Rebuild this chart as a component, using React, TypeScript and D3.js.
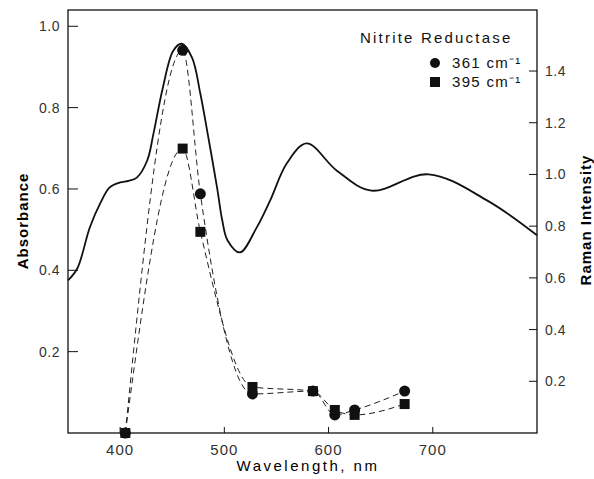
import React, { useRef, useEffect } from 'react'
import * as d3 from 'd3'

// absorption spectrum (solid line)
const absWavelength = [350, 359, 371, 381, 390, 400, 408, 416, 426, 432, 441, 451, 459, 469, 477, 484, 493, 498, 503, 515, 531, 544, 560, 579, 608, 641, 696, 752, 800]
const absorbance = [0.375, 0.405, 0.506, 0.565, 0.604, 0.616, 0.62, 0.628, 0.67, 0.736, 0.849, 0.94, 0.957, 0.923, 0.834, 0.736, 0.604, 0.523, 0.474, 0.444, 0.505, 0.572, 0.663, 0.712, 0.645, 0.596, 0.636, 0.572, 0.486]

// resonance Raman excitation profiles
const ramanWavelength = [405, 460, 477, 527, 585, 606, 625, 673]
const raman361 = [0, 1.48, 0.925, 0.151, 0.162, 0.07, 0.089, 0.162]
const raman395 = [0, 1.1, 0.778, 0.178, 0.162, 0.089, 0.07, 0.112]

const xTicks = [400, 500, 600, 700]
const absTicks = [0.2, 0.4, 0.6, 0.8, 1.0]
const ramanTicks = [0.2, 0.4, 0.6, 0.8, 1.0, 1.2, 1.4]

const W = 594
const H = 479
const FONT = '"Liberation Sans", Arial, sans-serif'

const App = () => {
  const svgRef = useRef(null)

  useEffect(() => {
    const svg = d3.select(svgRef.current)
    svg.selectAll('*').remove()

    const left = 68, right = 537, top = 10, bottom = 433

    const x = d3.scaleLinear().domain([350, 800]).range([left, right])
    const yAbs = d3.scaleLinear().domain([0, 1.04]).range([bottom, top])
    const yRam = d3.scaleLinear().domain([0, 1.636]).range([bottom, top])

    // frame
    svg.append('rect')
      .attr('x', left).attr('y', top)
      .attr('width', right - left).attr('height', bottom - top)
      .attr('fill', 'none').attr('stroke', '#111').attr('stroke-width', 1.3)

    // bottom ticks
    const gx = svg.append('g')
    gx.selectAll('line').data(xTicks).enter().append('line')
      .attr('x1', (d) => x(d)).attr('x2', (d) => x(d))
      .attr('y1', bottom).attr('y2', bottom - 6)
      .attr('stroke', '#111').attr('stroke-width', 1)
    gx.selectAll('text').data(xTicks).enter().append('text')
      .attr('x', (d) => x(d)).attr('y', bottom + 22)
      .attr('text-anchor', 'middle')
      .attr('font-family', FONT).attr('font-size', 15).attr('letter-spacing', 1)
      .attr('fill', '#333')
      .text((d) => d)

    // left axis
    const gl = svg.append('g')
    gl.selectAll('line').data(absTicks).enter().append('line')
      .attr('x1', left).attr('x2', left + 10)
      .attr('y1', (d) => yAbs(d)).attr('y2', (d) => yAbs(d))
      .attr('stroke', '#111').attr('stroke-width', 1)
    gl.selectAll('text').data(absTicks).enter().append('text')
      .attr('x', left - 8).attr('y', (d) => yAbs(d) + 5)
      .attr('text-anchor', 'end')
      .attr('font-family', FONT).attr('font-size', 14).attr('letter-spacing', 0.5)
      .attr('fill', '#333')
      .text((d) => d.toFixed(1))

    // right axis
    const gr = svg.append('g')
    gr.selectAll('line').data(ramanTicks).enter().append('line')
      .attr('x1', right).attr('x2', right - 8)
      .attr('y1', (d) => yRam(d)).attr('y2', (d) => yRam(d))
      .attr('stroke', '#111').attr('stroke-width', 1)
    gr.selectAll('text').data(ramanTicks).enter().append('text')
      .attr('x', right + 8).attr('y', (d) => yRam(d) + 5)
      .attr('font-family', FONT).attr('font-size', 14).attr('letter-spacing', 0.5)
      .attr('fill', '#333')
      .text((d) => d.toFixed(1))

    // axis titles
    svg.append('text')
      .attr('transform', `translate(28,221) rotate(-90)`)
      .attr('text-anchor', 'middle')
      .attr('font-family', FONT).attr('font-size', 15).attr('font-weight', 'bold')
      .attr('letter-spacing', 1)
      .text('Absorbance')
    svg.append('text')
      .attr('transform', `translate(591,220) rotate(-90)`)
      .attr('text-anchor', 'middle')
      .attr('font-family', FONT).attr('font-size', 15).attr('font-weight', 'bold')
      .attr('letter-spacing', 1)
      .text('Raman Intensity')
    svg.append('text')
      .attr('x', 308).attr('y', 471)
      .attr('text-anchor', 'middle')
      .attr('font-family', FONT).attr('font-size', 15)
      .attr('letter-spacing', 2.5)
      .text('Wavelength, nm')

    // absorbance curve
    const absLine = d3.line()
      .x((d) => x(d[0])).y((d) => yAbs(d[1]))
      .curve(d3.curveCatmullRom.alpha(0.5))
    svg.append('path')
      .attr('d', absLine(absWavelength.map((w, i) => [w, absorbance[i]])))
      .attr('fill', 'none').attr('stroke', '#111').attr('stroke-width', 1.8)

    // raman profiles
    const ramLine = d3.line()
      .x((d) => x(d[0])).y((d) => yRam(d[1]))
      .curve(d3.curveMonotoneX)
    const series = [
      { values: raman361, shape: 'circle' },
      { values: raman395, shape: 'square' },
    ]
    series.forEach((s) => {
      const pts = ramanWavelength.map((w, i) => [w, s.values[i]])
      svg.append('path')
        .attr('d', ramLine(pts))
        .attr('fill', 'none').attr('stroke', '#222').attr('stroke-width', 1)
        .attr('stroke-dasharray', '6,4')
      const g = svg.append('g')
      if (s.shape === 'circle') {
        g.selectAll('circle').data(pts).enter().append('circle')
          .attr('cx', (d) => x(d[0])).attr('cy', (d) => yRam(d[1]))
          .attr('r', 5.5).attr('fill', '#111')
      } else {
        g.selectAll('rect').data(pts).enter().append('rect')
          .attr('x', (d) => x(d[0]) - 5).attr('y', (d) => yRam(d[1]) - 5)
          .attr('width', 10).attr('height', 10).attr('fill', '#111')
      }
    })

    // legend
    svg.append('text')
      .attr('x', 360).attr('y', 43)
      .attr('font-family', FONT).attr('font-size', 15).attr('letter-spacing', 2.2)
      .attr('fill', '#111')
      .text('Nitrite Reductase')
    svg.append('circle').attr('cx', 435).attr('cy', 63).attr('r', 5).attr('fill', '#111')
    svg.append('rect').attr('x', 430).attr('y', 77).attr('width', 10).attr('height', 10).attr('fill', '#111')
    const legendLabels = ['361 cm\u207B\u00B9', '395 cm\u207B\u00B9']
    legendLabels.forEach((t, i) => {
      svg.append('text')
        .attr('x', 452).attr('y', 68 + i * 19)
        .attr('font-family', FONT).attr('font-size', 15).attr('letter-spacing', 1.3)
        .attr('fill', '#111')
        .text(t)
    })
  }, [])

  return (
    <svg
      ref={svgRef}
      width={W}
      height={H}
      style={{ position: 'absolute', left: 0, top: 0, background: '#fff' }}
    />
  )
}

export default App
